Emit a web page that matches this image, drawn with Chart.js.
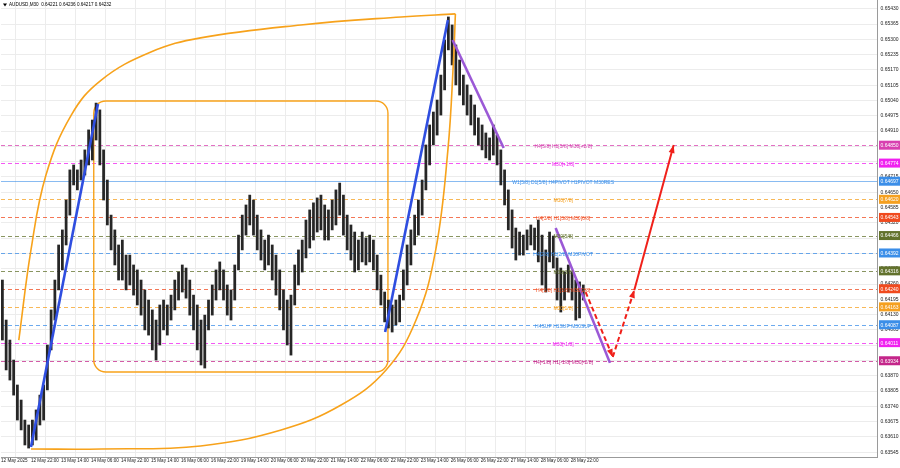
<!DOCTYPE html>
<html>
<head>
<meta charset="utf-8">
<script src="https://cdn.jsdelivr.net/npm/chart.js@4.4.0/dist/chart.umd.min.js"></script>
<style>
html, body { margin: 0; padding: 0; background: #fff; }
#wrap { width: 900px; height: 468px; position: relative; }
</style>
</head>
<body>
<div id="wrap"><canvas id="c"></canvas></div>
<script>
// AUDUSD M30, one entry = 4 bars (2h), first bar 12 May 06:00
const highs = [
  0.64277, 0.64107, 0.64022, 0.63937, 0.63831, 0.63767, 0.63682, 0.63661, 0.63682, 0.63725,
  0.63788, 0.63831, 0.64001, 0.64150, 0.64277, 0.64426, 0.64490, 0.64617, 0.64745, 0.64766,
  0.64745, 0.64787, 0.64830, 0.64915, 0.64957, 0.65029, 0.65000, 0.64830, 0.64702, 0.64553,
  0.64490, 0.64426, 0.64447, 0.64383, 0.64383, 0.64341, 0.64320, 0.64277, 0.64235, 0.64192,
  0.64150, 0.64107, 0.64171, 0.64192, 0.64171, 0.64213, 0.64277, 0.64311, 0.64341, 0.64328,
  0.64277, 0.64213, 0.64171, 0.64107, 0.64128, 0.64192, 0.64256, 0.64320, 0.64354, 0.64320,
  0.64256, 0.64235, 0.64341, 0.64468, 0.64553, 0.64596, 0.64638, 0.64617, 0.64553, 0.64490,
  0.64447, 0.64468, 0.64426, 0.64383, 0.64320, 0.64235, 0.64192, 0.64213, 0.64341, 0.64405,
  0.64447, 0.64532, 0.64575, 0.64605, 0.64626, 0.64638, 0.64596, 0.64575, 0.64617, 0.64660,
  0.64689, 0.64638, 0.64553, 0.64511, 0.64481, 0.64447, 0.64481, 0.64456, 0.64468, 0.64447,
  0.64383, 0.64298, 0.64226, 0.64192, 0.64171, 0.64192, 0.64213, 0.64320, 0.64426, 0.64490,
  0.64553, 0.64617, 0.64702, 0.64851, 0.64936, 0.64991, 0.65042, 0.65148, 0.65297, 0.65395,
  0.65361, 0.65276, 0.65212, 0.65148, 0.65106, 0.65063, 0.65021, 0.64966, 0.64936, 0.64902,
  0.64881, 0.64936, 0.64893, 0.64830, 0.64745, 0.64660, 0.64575, 0.64498, 0.64481, 0.64468,
  0.64490, 0.64511, 0.64498, 0.64532, 0.64468, 0.64405, 0.64481, 0.64464, 0.64371, 0.64328,
  0.64311, 0.64341, 0.64311, 0.64277, 0.64269, 0.64256
];
const lows = [
  0.64022, 0.63895, 0.63852, 0.63788, 0.63682, 0.63640, 0.63576, 0.63563, 0.63576, 0.63597,
  0.63661, 0.63682, 0.63810, 0.63980, 0.64107, 0.64235, 0.64320, 0.64426, 0.64553, 0.64681,
  0.64660, 0.64702, 0.64723, 0.64766, 0.64787, 0.64872, 0.64766, 0.64617, 0.64511, 0.64405,
  0.64341, 0.64277, 0.64277, 0.64235, 0.64256, 0.64213, 0.64171, 0.64128, 0.64065, 0.64043,
  0.63980, 0.63937, 0.64001, 0.64065, 0.64043, 0.64107, 0.64150, 0.64192, 0.64226, 0.64200,
  0.64128, 0.64065, 0.63980, 0.63916, 0.63903, 0.64065, 0.64128, 0.64192, 0.64235, 0.64192,
  0.64128, 0.64107, 0.64192, 0.64320, 0.64405, 0.64468, 0.64511, 0.64468, 0.64405, 0.64362,
  0.64320, 0.64341, 0.64277, 0.64213, 0.64150, 0.64065, 0.64001, 0.63958, 0.64171, 0.64256,
  0.64311, 0.64371, 0.64413, 0.64447, 0.64481, 0.64490, 0.64447, 0.64447, 0.64490, 0.64511,
  0.64553, 0.64468, 0.64405, 0.64362, 0.64311, 0.64320, 0.64354, 0.64341, 0.64354, 0.64320,
  0.64235, 0.64171, 0.64099, 0.64073, 0.64056, 0.64086, 0.64099, 0.64192, 0.64256, 0.64341,
  0.64426, 0.64468, 0.64553, 0.64660, 0.64766, 0.64851, 0.64893, 0.64978, 0.65085, 0.65255,
  0.65191, 0.65106, 0.65063, 0.65021, 0.64978, 0.64936, 0.64893, 0.64851, 0.64830, 0.64796,
  0.64787, 0.64808, 0.64766, 0.64681, 0.64596, 0.64490, 0.64413, 0.64362, 0.64383, 0.64383,
  0.64405, 0.64426, 0.64405, 0.64354, 0.64256, 0.64226, 0.64354, 0.64328, 0.64192, 0.64141,
  0.64192, 0.64226, 0.64192, 0.64107, 0.64116, 0.64192
];

const timeLabels = ['12 May 2025', '12 May 22:00', '13 May 14:00', '14 May 06:00', '14 May 22:00',
  '15 May 14:00', '16 May 06:00', '16 May 22:00', '19 May 14:00', '20 May 06:00', '20 May 22:00',
  '21 May 14:00', '22 May 06:00', '22 May 22:00', '23 May 14:00', '26 May 06:00', '26 May 22:00',
  '27 May 14:00', '28 May 06:00', '28 May 22:00'];

const priceTicks = [0.65430, 0.65365, 0.65300, 0.65235, 0.65170, 0.65105, 0.65040, 0.64975, 0.64910,
  0.64845, 0.64780, 0.64715, 0.64650, 0.64585, 0.64520, 0.64455, 0.64390, 0.64325, 0.64260, 0.64195,
  0.64130, 0.64065, 0.64000, 0.63935, 0.63870, 0.63805, 0.63740, 0.63675, 0.63610, 0.63545];

// murrey / pivot levels
const levelPrices = [0.64850, 0.64774, 0.64697, 0.64620, 0.64543, 0.64466, 0.64392, 0.64316, 0.64240,
  0.64163, 0.64087, 0.64011, 0.63934];
const levelNames = ['H4[5/8] H1[5/8] M30[+2/8]', 'M30[+1/8]', 'W1[5/8] D1[5/8] H4PIVOT H1PIVOT M30RES',
  'M30[7/8]', 'H4[3/8] H1[3/8] M30[6/8]', 'M30[5/8]', 'H4[2/8] H1[2/8] M30PIVOT', 'M30[3/8]',
  'H4[1/8] H1[1/8] M30[2/8]', 'M30[1/8]', 'H4SUP H1SUP M30SUP', 'M30[-1/8]', 'H4[-1/8] H1[-1/8] M30[-2/8]'];
const levelColors = ['#d840b0', '#f020f0', '#3b8ee8', '#f5a020', '#f04a1e', '#62722c', '#3b8ee8',
  '#62722c', '#f04a1e', '#f5a020', '#3b8ee8', '#f020f0', '#c4268a'];

// drawn objects, [bar, price]
const blueUp1 = [[32, 0.63568], [103.5, 0.65025]];
const blueUp2 = [[410, 0.64056], [477, 0.65382]];
const purpleDown1 = [[482, 0.65297], [536.5, 0.64838]];
const purpleDown2 = [[592, 0.64498], [650, 0.63925]];
const redDashDown = [[624, 0.64226], [653, 0.63950]];
const redDashUp = [[653, 0.63950], [676, 0.64235]];
const redUp = [[676, 0.64235], [718, 0.64851]];
const orangeTop = [[19, 0.64022], [32, 0.64405], [48, 0.64723], [75, 0.64978], [107, 0.65127],
  [160, 0.65246], [213, 0.65306], [320, 0.65361], [427, 0.65395], [485, 0.65408]];
const orangeBottom = [[32, 0.63559], [107, 0.63559], [213, 0.63572], [299, 0.63640], [363, 0.63746],
  [411, 0.63895], [443, 0.64107], [464, 0.64405], [477, 0.64830], [483, 0.65212], [485, 0.65408]];
const orangeBox = { from: 99, to: 413, top: 0.65038, bottom: 0.63886 };

const xy = arr => arr.map(p => ({ x: p[0], y: p[1] }));
const candles = highs.map((h, i) => ({ x: i * 4 + 1.5, y: [lows[i], h] }));

function lineSet(pts, color, width, extra) {
  return Object.assign({
    type: 'line', data: xy(pts), borderColor: color, borderWidth: width,
    pointRadius: 0, fill: false, tension: 0
  }, extra || {});
}

const FONT = 'Liberation Sans, Arial, sans-serif';

const mt4Plugin = {
  id: 'mt4',
  beforeDatasetsDraw(chart) {
    const { ctx, chartArea: a, scales: { x, y } } = chart;
    ctx.save();
    levelPrices.forEach((p, i) => {
      const py = Math.round(y.getPixelForValue(p)) + 0.5;
      ctx.strokeStyle = levelColors[i];
      ctx.globalAlpha = i === 2 ? 0.6 : 0.75;
      ctx.lineWidth = 1;
      ctx.setLineDash(i === 2 ? [] : [4, 3]);
      ctx.beginPath();
      ctx.moveTo(a.left, py);
      ctx.lineTo(a.right, py);
      ctx.stroke();
    });
    ctx.globalAlpha = 1;
    ctx.setLineDash([]);
    // orange rounded box
    const x0 = x.getPixelForValue(orangeBox.from), x1 = x.getPixelForValue(orangeBox.to);
    const y0 = y.getPixelForValue(orangeBox.top), y1 = y.getPixelForValue(orangeBox.bottom);
    ctx.strokeStyle = '#f7a21b';
    ctx.lineWidth = 1.4;
    ctx.beginPath();
    ctx.roundRect(x0, y0, x1 - x0, y1 - y0, 12);
    ctx.stroke();
    ctx.restore();
  },
  afterDatasetsDraw(chart) {
    const { ctx, chartArea: a, scales: { x, y } } = chart;
    ctx.save();
    // arrow heads
    chart.data.datasets.forEach((ds, i) => {
      if (!ds.arrow) return;
      const pts = chart.getDatasetMeta(i).data;
      const p1 = pts[pts.length - 2], p2 = pts[pts.length - 1];
      const ang = Math.atan2(p2.y - p1.y, p2.x - p1.x);
      ctx.fillStyle = ds.borderColor;
      ctx.beginPath();
      ctx.moveTo(p2.x, p2.y);
      ctx.lineTo(p2.x - 8 * Math.cos(ang) + 3 * Math.sin(ang), p2.y - 8 * Math.sin(ang) - 3 * Math.cos(ang));
      ctx.lineTo(p2.x - 8 * Math.cos(ang) - 3 * Math.sin(ang), p2.y - 8 * Math.sin(ang) + 3 * Math.cos(ang));
      ctx.closePath();
      ctx.fill();
    });
    // level names
    ctx.font = '5px ' + FONT;
    ctx.textAlign = 'center';
    ctx.textBaseline = 'middle';
    levelPrices.forEach((p, i) => {
      ctx.fillStyle = levelColors[i];
      ctx.fillText(levelNames[i], x.getPixelForValue(600), y.getPixelForValue(p) + 1.5);
    });
    // header
    ctx.fillStyle = '#000';
    ctx.textAlign = 'left';
    ctx.font = '4.6px ' + FONT;
    ctx.fillText('AUDUSD,M30  0.64221 0.64236 0.64217 0.64232', a.left + 8, a.top + 5);
    ctx.beginPath();
    ctx.moveTo(a.left + 2, a.top + 3.5);
    ctx.lineTo(a.left + 6, a.top + 3.5);
    ctx.lineTo(a.left + 4, a.top + 6.5);
    ctx.closePath();
    ctx.fill();
    ctx.restore();
  },
  afterDraw(chart) {
    const { ctx, chartArea: a, scales: { y } } = chart;
    ctx.save();
    ctx.font = '5px ' + FONT;
    ctx.textAlign = 'left';
    ctx.textBaseline = 'middle';
    // price scale labels
    ctx.fillStyle = '#222';
    priceTicks.forEach(v => ctx.fillText(v.toFixed(5), a.right + 3.5, y.getPixelForValue(v)));
    // level price boxes
    levelPrices.forEach((p, i) => {
      const py = y.getPixelForValue(p);
      ctx.fillStyle = levelColors[i];
      ctx.fillRect(a.right + 2, py - 4.5, 21, 9);
      ctx.fillStyle = '#fff';
      ctx.fillText(p.toFixed(5), a.right + 3.5, py + 0.5);
    });
    ctx.restore();
  }
};

new Chart(document.getElementById('c'), {
  type: 'bar',
  data: {
    datasets: [
      { type: 'bar', data: candles, backgroundColor: '#262626', barThickness: 2.1, grouped: false, order: 10 },
      lineSet(orangeTop, '#f7a21b', 1.6, { tension: 0.4, order: 5 }),
      lineSet(orangeBottom, '#f7a21b', 1.6, { tension: 0.4, order: 5 }),
      lineSet(blueUp1, '#2f4ee0', 2.6, { order: 1 }),
      lineSet(blueUp2, '#2f4ee0', 2.6, { order: 1 }),
      lineSet(purpleDown1, '#9b59d6', 2.6, { order: 1 }),
      lineSet(purpleDown2, '#9b59d6', 2.6, { order: 1 }),
      lineSet(redDashDown, '#f0201a', 2, { borderDash: [5, 3], arrow: true, order: 1 }),
      lineSet(redDashUp, '#f0201a', 2, { borderDash: [5, 3], arrow: true, order: 1 }),
      lineSet(redUp, '#f0201a', 2, { arrow: true, order: 1 })
    ]
  },
  options: {
    responsive: true,
    maintainAspectRatio: false,
    animation: false,
    layout: { padding: 0 },
    plugins: { legend: { display: false }, tooltip: { enabled: false } },
    scales: {
      x: {
        type: 'linear', min: 0, max: 935, offset: false,
        afterBuildTicks: s => { s.ticks = timeLabels.map((t, i) => ({ value: i * 32 })); },
        afterFit: s => { s.height = 11; },
        ticks: {
          align: 'start', padding: 1, maxRotation: 0, autoSkip: false, color: '#222',
          font: { family: FONT, size: 4.6 },
          callback: (v) => timeLabels[Math.round(v / 32)]
        },
        grid: { color: '#ececec', drawTicks: false },
        border: { color: '#9a9a9a' }
      },
      y: {
        position: 'right', min: 0.63525, max: 0.65467,
        afterBuildTicks: s => { s.ticks = priceTicks.map(v => ({ value: v })); },
        afterFit: s => { s.width = 23; },
        ticks: { display: false },
        grid: { color: '#ececec', drawTicks: false },
        border: { color: '#9a9a9a' }
      }
    }
  },
  plugins: [mt4Plugin]
});
</script>
</body>
</html>
